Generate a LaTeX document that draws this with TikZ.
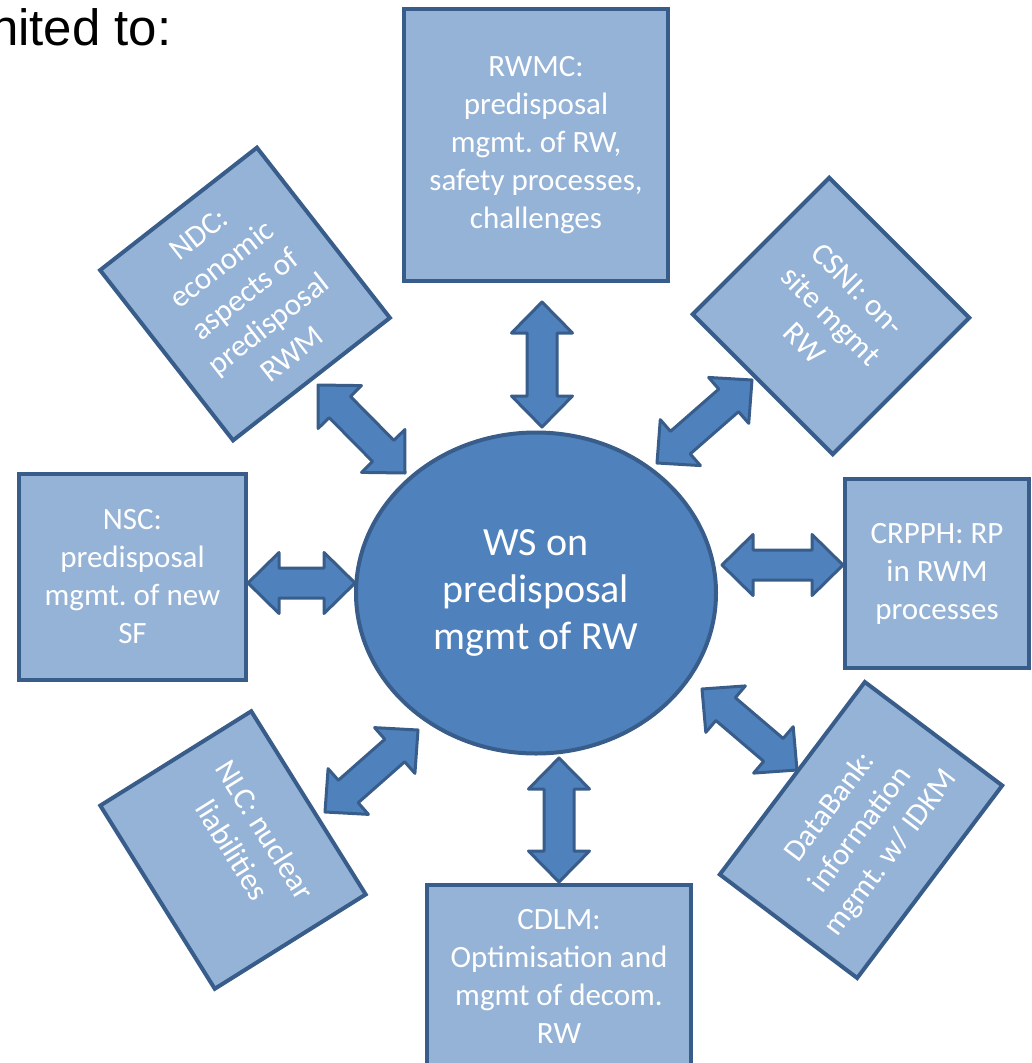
\documentclass[tikz,border=0pt]{standalone}
\usepackage{fontspec}
\setmainfont{Carlito}
\newfontfamily\arialfont{Liberation Sans}
\usetikzlibrary{shapes.geometric,calc}
\frenchspacing

\definecolor{boxfill}{HTML}{95B3D7}
\definecolor{boxline}{HTML}{385D8A}
\definecolor{wsfill}{HTML}{4F81BD}

\tikzset{
  box/.style={rectangle, draw=boxline, fill=boxfill, line width=4pt, text=white,
    align=center, inner sep=0pt, font=\fontsize{31}{38}\selectfont},
  % double block arrow between two coordinates
  dblarrow/.style={draw=boxline, fill=wsfill, line width=3pt, line join=round,
    to path={
      -- ($(\tikztostart)!31pt!(\tikztotarget)!30.5pt!90:(\tikztotarget)$)
      -- ($(\tikztostart)!31pt!(\tikztotarget)!15pt!90:(\tikztotarget)$)
      -- ($(\tikztotarget)!31pt!(\tikztostart)!15pt!90:(\tikztotarget)$)
      -- ($(\tikztotarget)!31pt!(\tikztostart)!30.5pt!90:(\tikztotarget)$)
      -- (\tikztotarget)
      -- ($(\tikztotarget)!31pt!(\tikztostart)!30.5pt!-90:(\tikztotarget)$)
      -- ($(\tikztotarget)!31pt!(\tikztostart)!15pt!-90:(\tikztotarget)$)
      -- ($(\tikztostart)!31pt!(\tikztotarget)!15pt!-90:(\tikztotarget)$)
      -- ($(\tikztostart)!31pt!(\tikztotarget)!30.5pt!-90:(\tikztotarget)$)
      -- cycle}}
}

\begin{document}
\begin{tikzpicture}[x=1pt, y=-1pt]
		\useasboundingbox (0,0) rectangle (1032,1063);
		\clip (0,0) rectangle (1032,1063);
		\node[anchor=base east, font=\arialfont\fontsize{51}{60}\selectfont] (title) at (175,45) {nited to:};
		% boxes round the workshop
		\node[box, minimum width=264pt, minimum height=272pt] (rwmc) at (536,145) {RWMC:\\predisposal\\mgmt. of RW,\\safety processes,\\challenges};
		\node[box, rotate=38, minimum width=199pt, minimum height=216pt] (ndc) at (245,294) {NDC:\\economic\\aspects of\\predisposal\\RWM};
		\node[box, rotate=-45, minimum width=198pt, minimum height=193pt] (csni) at (831,316) {CSNI: on-\\site mgmt\\RW};
		\node[box, minimum width=227pt, minimum height=206pt] (nsc) at (132.5,577) {NSC:\\predisposal\\mgmt. of new\\SF};
		\node[box, minimum width=184pt, minimum height=189pt] (crpph) at (937,573.5) {CRPPH: RP\\in RWM\\processes};
		\node[box, rotate=-58, minimum width=216pt, minimum height=178pt] (nlc) at (233,850) {NLC: nuclear\\liabilities\\~};
		\node[box, rotate=53, minimum width=241pt, minimum height=172pt] (databank) at (861,830) {DataBank:\\information\\mgmt. w/ IDKM};
		\node[box, minimum width=264pt, minimum height=182pt] (cdlm) at (559,976) {CDLM:\\Optimisation and\\mgmt of decom.\\RW};
		\node[ellipse, draw=boxline, fill=wsfill, line width=4pt, text=white, align=center, inner sep=0pt,
			minimum width=360pt, minimum height=321pt, font=\fontsize{40}{47}\selectfont] (ws) at (536,593) {WS on\\predisposal\\mgmt of RW};
		% arrow ends
		\coordinate (rwmc1) at (542,302);  \coordinate (rwmc2) at (542,427);
		\coordinate (cdlm1) at (559,758);  \coordinate (cdlm2) at (559,882);
		\coordinate (nsc1) at (248,583);   \coordinate (nsc2) at (355,583);
		\coordinate (crpph1) at (722,565); \coordinate (crpph2) at (843,565);
		\coordinate (ndc1) at (318,385);   \coordinate (ndc2) at (405,473);
		\coordinate (csni1) at (657,463);  \coordinate (csni2) at (752,380);
		\coordinate (nlc1) at (325,812);   \coordinate (nlc2) at (418,730);
		\coordinate (db1) at (702,689);    \coordinate (db2) at (797,770);
		\begin{scope}[every edge/.style={dblarrow}]
			\path (rwmc1) edge (rwmc2);
			\path (cdlm1) edge (cdlm2);
			\path (nsc1) edge (nsc2);
			\path (crpph1) edge (crpph2);
			\path (ndc1) edge (ndc2);
			\path (csni1) edge (csni2);
			\path (nlc1) edge (nlc2);
			\path (db1) edge (db2);
		\end{scope}
	\end{tikzpicture}
\end{document}
